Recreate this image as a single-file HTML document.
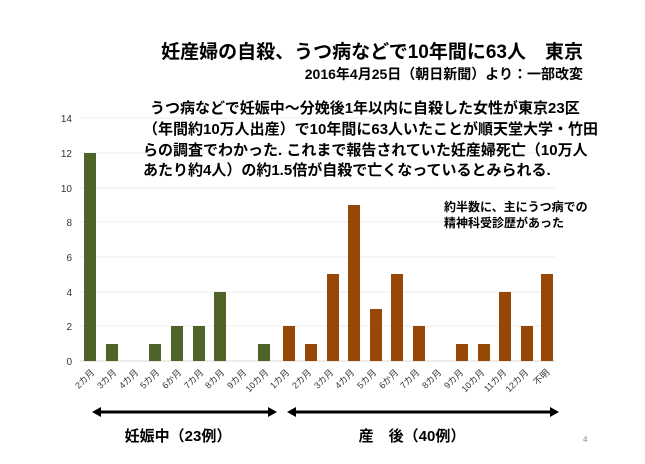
<!DOCTYPE html>
<html><head><meta charset="utf-8"><style>
body{margin:0;background:#fff;width:645px;height:459px;overflow:hidden;font-family:"Liberation Sans","Noto Sans CJK JP",sans-serif}
</style></head><body>
<svg width="645" height="459" xmlns="http://www.w3.org/2000/svg" font-family="Liberation Sans, Noto Sans CJK JP, sans-serif">
<text x="583" y="58" font-size="19" font-weight="bold" text-anchor="end" fill="#000">妊産婦の自殺、うつ病などで10年間に63人　東京</text>
<text x="583" y="79" font-size="14" font-weight="bold" text-anchor="end" fill="#000">2016年4月25日（朝日新聞）より：一部改変</text>
<g stroke="#eeeeee" stroke-width="1">
<line x1="80" y1="118" x2="555" y2="118"/><line x1="80" y1="153" x2="555" y2="153"/>
<line x1="80" y1="188" x2="555" y2="188"/><line x1="80" y1="222" x2="555" y2="222"/>
<line x1="80" y1="257" x2="555" y2="257"/><line x1="80" y1="292" x2="555" y2="292"/>
<line x1="80" y1="326" x2="555" y2="326"/>
</g>
<line x1="80" y1="361" x2="555" y2="361" stroke="#d9d9d9"/>
<g font-size="10" fill="#333" text-anchor="end">
<text x="72" y="122">14</text><text x="72" y="157">12</text><text x="72" y="192">10</text>
<text x="72" y="226">8</text><text x="72" y="261">6</text><text x="72" y="296">4</text>
<text x="72" y="330">2</text><text x="72" y="365">0</text>
</g>
<g fill="#4f6228">
<rect x="84" y="153" width="12" height="208"/>
<rect x="106" y="344" width="12" height="17"/>
<rect x="149" y="344" width="12" height="17"/>
<rect x="171" y="326" width="12" height="35"/>
<rect x="193" y="326" width="12" height="35"/>
<rect x="214" y="292" width="12" height="69"/>
<rect x="258" y="344" width="12" height="17"/>
</g>
<g fill="#974706">
<rect x="283" y="326" width="12" height="35"/>
<rect x="305" y="344" width="12" height="17"/>
<rect x="327" y="274" width="12" height="87"/>
<rect x="348" y="205" width="12" height="156"/>
<rect x="370" y="309" width="12" height="52"/>
<rect x="391" y="274" width="12" height="87"/>
<rect x="413" y="326" width="12" height="35"/>
<rect x="456" y="344" width="12" height="17"/>
<rect x="478" y="344" width="12" height="17"/>
<rect x="499" y="292" width="12" height="69"/>
<rect x="521" y="326" width="12" height="35"/>
<rect x="541" y="274" width="12" height="87"/>
</g>
<g font-size="9" fill="#333" text-anchor="end">
<text transform="translate(95,373) rotate(-45)">2カ月</text>
<text transform="translate(117,373) rotate(-45)">3カ月</text>
<text transform="translate(139,373) rotate(-45)">4カ月</text>
<text transform="translate(160,373) rotate(-45)">5カ月</text>
<text transform="translate(182,373) rotate(-45)">6か月</text>
<text transform="translate(204,373) rotate(-45)">7カ月</text>
<text transform="translate(225,373) rotate(-45)">8カ月</text>
<text transform="translate(247,373) rotate(-45)">9カ月</text>
<text transform="translate(269,373) rotate(-45)">10カ月</text>
<text transform="translate(290,373) rotate(-45)">1カ月</text>
<text transform="translate(312,373) rotate(-45)">2カ月</text>
<text transform="translate(334,373) rotate(-45)">3カ月</text>
<text transform="translate(355,373) rotate(-45)">4カ月</text>
<text transform="translate(377,373) rotate(-45)">5カ月</text>
<text transform="translate(399,373) rotate(-45)">6か月</text>
<text transform="translate(420,373) rotate(-45)">7カ月</text>
<text transform="translate(442,373) rotate(-45)">8カ月</text>
<text transform="translate(464,373) rotate(-45)">9カ月</text>
<text transform="translate(485,373) rotate(-45)">10カ月</text>
<text transform="translate(507,373) rotate(-45)">11カ月</text>
<text transform="translate(529,373) rotate(-45)">12カ月</text>
<text transform="translate(550,373) rotate(-45)">不明</text>
</g>
<g stroke="#000" stroke-width="3">
<line x1="97" y1="412" x2="272" y2="412"/>
<line x1="293" y1="412" x2="554" y2="412"/>
</g>
<g fill="#000">
<polygon points="92,412 101,407 101,417"/><polygon points="277,412 268,407 268,417"/>
<polygon points="287,412 296,407 296,417"/><polygon points="559,412 550,407 550,417"/>
</g>
<text x="178" y="441" font-size="15" font-weight="bold" text-anchor="middle" fill="#000">妊娠中（23例）</text>
<text x="412" y="441" font-size="15" font-weight="bold" text-anchor="middle" fill="#000">産　後（40例）</text>
<text x="583" y="442" font-size="8" fill="#888">4</text>
<g font-size="15" font-weight="bold" fill="#000">
<text x="150" y="113">うつ病などで妊娠中～分娩後1年以内に自殺した女性が東京23区</text>
<text x="143" y="134">（年間約10万人出産）で10年間に63人いたことが順天堂大学・竹田</text>
<text x="143" y="155">らの調査でわかった. これまで報告されていた妊産婦死亡（10万人</text>
<text x="143" y="175">あたり約4人）の約1.5倍が自殺で亡くなっているとみられる.</text>
</g>
<g font-size="12" font-weight="bold" fill="#000">
<text x="444" y="211">約半数に、主にうつ病での</text>
<text x="444" y="227">精神科受診歴があった</text>
</g>
</svg>
</body></html>
